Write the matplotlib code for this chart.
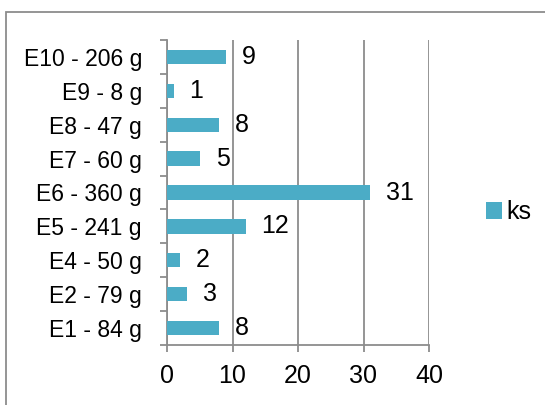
import matplotlib
matplotlib.use("Agg")
import matplotlib.pyplot as plt
import numpy as np
from matplotlib.patches import Rectangle

# data, bottom to top
labels = ['E1 - 84 g', 'E2 - 79 g', 'E4 - 50 g', 'E5 - 241 g', 'E6 - 360 g',
          'E7 - 60 g', 'E8 - 47 g', 'E9 - 8 g', 'E10 - 206 g']
counts = [8, 3, 2, 12, 31, 5, 8, 1, 9]
series_name = 'ks'
xticks = [0, 10, 20, 30, 40]

plt.rcParams['font.family'] = ['Liberation Sans', 'DejaVu Sans']
fs_cat = 16.5
fs_num = 18
grey = '#8c8c8c'
bar_color = '#4bacc6'

fig = plt.figure(figsize=(5.45, 4.05), dpi=100)
# outer chart border (cropped on right/bottom)
fig.patches.append(Rectangle((6 / 545, -0.1), 1.2, 1 - 12 / 405 + 0.1,
                             transform=fig.transFigure, fill=False,
                             edgecolor=grey, linewidth=1.3))

ax = fig.add_axes([167 / 545, 1 - 345 / 405, (429 - 167) / 545, (345 - 40) / 405])
y = np.arange(len(labels))
bars = ax.barh(y, counts, height=0.42, color=bar_color, label=series_name, zorder=3)

for yi, v in zip(y, counts):
    ax.annotate(str(v), (v, yi), xytext=(11.5, 0), textcoords='offset points',
                va='center', ha='left', fontsize=fs_num)

ax.set_xlim(0, 40)
ax.set_ylim(-0.5, len(labels) - 0.5)
ax.set_xticks(xticks)
ax.set_xticklabels([str(t) for t in xticks], fontsize=fs_num)
ax.set_yticks(y)
ax.set_yticklabels(labels, fontsize=fs_cat)
ax.set_yticks(np.arange(-0.5, len(labels), 1), minor=True)
ax.tick_params(axis='y', which='major', length=0, pad=18)
ax.tick_params(axis='y', which='minor', length=5, color=grey, width=1.3, direction='out')
ax.tick_params(axis='x', length=5, color=grey, width=1.3, direction='out', pad=9)
ax.grid(axis='x', color=grey, linewidth=1.3, zorder=0)
for s in ['top', 'right']:
    ax.spines[s].set_visible(False)
for s in ['left', 'bottom']:
    ax.spines[s].set_color(grey)
    ax.spines[s].set_linewidth(1.3)

fig.legend(handles=[bars], labels=[series_name], loc='center left',
           bbox_to_anchor=(463 / 545, 1 - 212 / 405), frameon=False,
           fontsize=fs_num, handlelength=0.65, handleheight=0.65, handletextpad=0.2)

fig.savefig('out.png', dpi=100)
